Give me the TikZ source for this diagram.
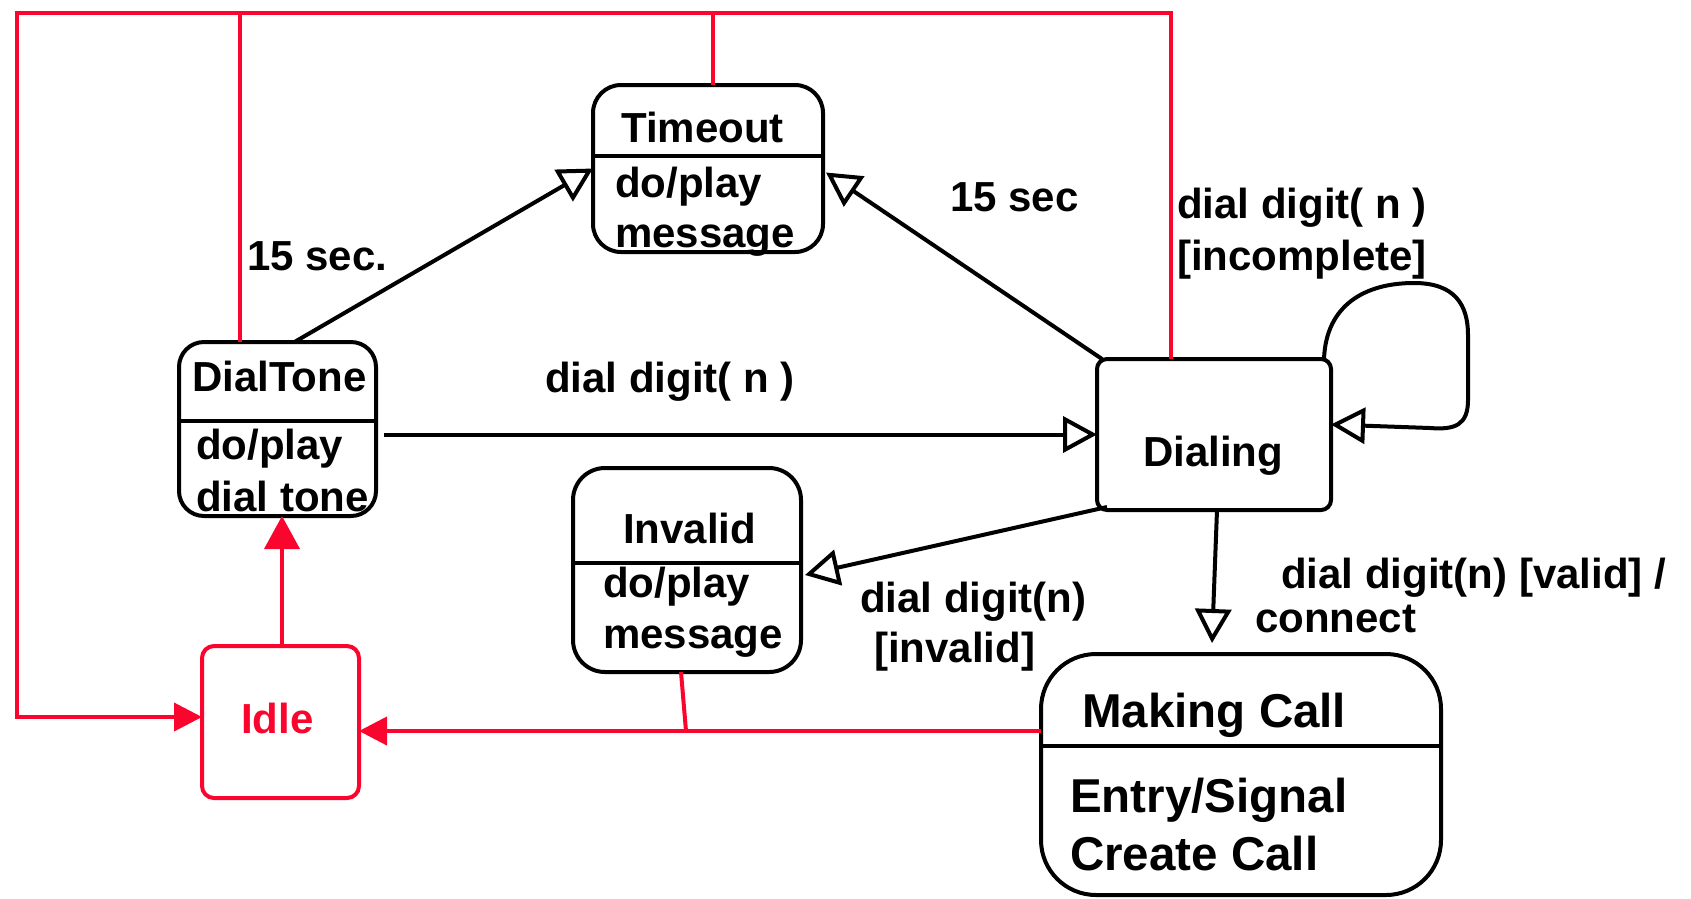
\documentclass[tikz,border=0pt]{standalone}
\usepackage{fontspec}
\setmainfont{Liberation Sans}
\usetikzlibrary{arrows.meta}
\definecolor{idlered}{RGB}{250,5,45}

\begin{document}
\begin{tikzpicture}[x=1pt,y=-1pt,
  statebox/.style={draw,line width=4pt,inner sep=0pt,outer sep=0pt,rounded corners=#1},
  txt/.style={inner sep=0pt,anchor=base west,font=\fontsize{42}{44}\selectfont\bfseries},
  bigtxt/.style={txt,font=\fontsize{47.5}{50}\selectfont\bfseries},
  trans/.style={line width=4pt,-{Triangle[open,length=34pt,width=36pt]}},
  back/.style={idlered,line width=4pt},
  backarr/.style={back,-{Triangle[length=28pt,width=28pt]}}]
\useasboundingbox (0,0) rectangle (1691,898);

% states
\node[statebox=28pt,minimum width=230pt,minimum height=167pt] (timeout) at (708,168.5) {};
\node[statebox=25pt,minimum width=197pt,minimum height=174pt] (dialtone) at (277.5,429) {};
\node[statebox=10pt,minimum width=234pt,minimum height=151pt] (dialing) at (1214,434.5) {};
\node[statebox=32pt,minimum width=228pt,minimum height=204pt] (invalid) at (687,570) {};
\node[statebox=12pt,draw=idlered,minimum width=157pt,minimum height=152pt] (idle) at (280.5,722) {};
\node[statebox=55pt,minimum width=400pt,minimum height=241pt] (mcall) at (1241,774.5) {};

\draw[line width=4pt] (timeout.west |- 0,156) -- (timeout.east |- 0,156);
\draw[line width=4pt] (dialtone.west |- 0,421) -- (dialtone.east |- 0,421);
\draw[line width=4pt] (invalid.west |- 0,563) -- (invalid.east |- 0,563);
\draw[line width=4pt] (mcall.west |- 0,746) -- (mcall.east |- 0,746);

\node[txt] (tolbl) at (621,142) {Timeout};
\node[txt] (todo) at (615,197) {do/play};
\node[txt] (tomsg) at (615,247) {message};
\node[txt] (dtlbl) at (192,391) {DialTone};
\node[txt] (dtdo) at (196,459) {do/play};
\node[txt] (dttone) at (196,511) {dial tone};
\node[txt] (dilbl) at (1143,466) {Dialing};
\node[txt] (invlbl) at (623,543) {Invalid};
\node[txt] (invdo) at (603,597) {do/play};
\node[txt] (invmsg) at (603,648) {message};
\node[txt,text=idlered] (idlelbl) at (241,733) {Idle};
\node[bigtxt] (mclbl) at (1082,727) {Making Call};
\node[bigtxt] (mcentry) at (1070,812) {Entry/Signal};
\node[bigtxt] (mccreate) at (1070,870) {Create Call};

% transitions
\draw[trans] ([xshift=17pt]dialtone.north) -- (timeout.west);
\draw[trans] ([xshift=5pt]dialing.north west) -- ([xshift=3pt,yshift=-4pt]timeout.east);
\draw[trans] ([xshift=8pt]dialtone.east |- dialing.west) -- (dialing.west);
\draw[trans] ([xshift=-7pt]dialing.north east) .. controls (1326,305) and (1365,283) .. (1414,283)
  .. controls (1455,283) and (1468,305) .. (1468,335) -- (1468,400)
  .. controls (1468,425) and (1455,430) .. (1430,428) -- ([yshift=10pt]dialing.east);
\draw[trans] ([xshift=10pt,yshift=3pt]dialing.south west) -- ([xshift=4pt,yshift=-5pt]invalid.east);
\draw[trans] ([xshift=3pt]dialing.south) -- ([xshift=-2pt,yshift=11pt]dialing.south |- mcall.north);

\node[txt] (t1) at (247,270) {15 sec.};
\node[txt] (t2) at (950,211) {15 sec};
\node[txt] (t3) at (545,392) {dial digit( n )};
\node[txt] (t4a) at (1177,218) {dial digit( n )};
\node[txt] (t4b) at (1177,270) {[incomplete]};
\node[txt] (t5a) at (860,612) {dial digit(n)};
\node[txt] (t5b) at (874,662) {[invalid]};
\node[txt] (t6a) at (1281,588) {dial digit(n) [valid] /};
\node[txt] (t6b) at (1255,632) {connect};

% back to idle
\coordinate (topL) at (17,13);
\coordinate (topR) at (1171,13);
\coordinate (dtup) at (240,13);
\coordinate (toup) at (713,13);
\coordinate (joint) at (686,731);
\draw[backarr] (topR |- dialing.north) -- (topR) -- (topL) |- ([yshift=5pt]idle.west);
\draw[back] (dtup |- dialtone.north) -- (dtup);
\draw[back] (toup |- timeout.north) -- (toup);
\draw[back,-{Triangle[length=33pt,width=35pt]}] ([xshift=1.5pt]idle.north) -- ([xshift=1.5pt]idle.north |- dialtone.south);
\draw[backarr] (mcall.west |- joint) -- (idle.east |- joint);
\draw[back] ([xshift=-6pt]invalid.south) -- (joint);
\end{tikzpicture}
\end{document}
